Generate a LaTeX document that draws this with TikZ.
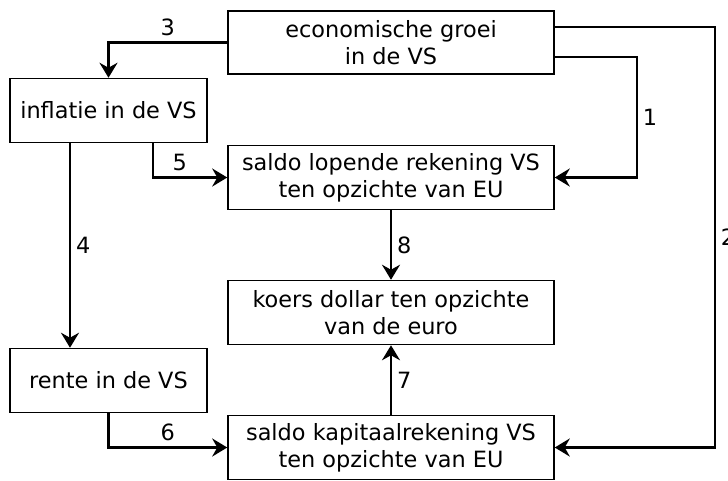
\documentclass[tikz,border=0pt]{standalone}
\usepackage{fontspec}
\setmainfont{DejaVu Sans}
\usepackage{tikz}
\usetikzlibrary{arrows.meta, positioning, calc}

\begin{document}
\begin{tikzpicture} [node distance = 67.5pt, on grid, font=\fontsize{11.2}{13.5}\selectfont,
		box/.style = {draw, line width = 0.75pt, minimum width = 163pt, minimum height = 32pt, align = center, inner sep = 1pt},
		smallbox/.style = {box, minimum width = 98.5pt},
		link/.style = {-{Stealth[length = 7.5pt, width = 9pt, inset = 2.5pt]}, line width = 1.2pt},
		num/.style = {inner sep = 2.5pt}]
		% Top Node : the others are placed from this one
		\node (groei) [box, minimum height = 31.5pt] {economische groei\\in de VS};

		\node (lopende) [box, below = of groei] {saldo lopende rekening VS\\ten opzichte van EU};

		\node (koers) [box, below = of lopende] {koers dollar ten opzichte\\van de euro};

		\node (kapitaal) [box, below = of koers] {saldo kapitaalrekening VS\\ten opzichte van EU};

		% Left column
		\node (inflatie) [smallbox, below left = 34pt and 141.25pt of groei] {inflatie in de VS};

		\node (rente) [smallbox, below = 135pt of inflatie] {rente in de VS};

		% Page size (bottom box runs off the edge)
		\useasboundingbox ($(groei.center)+(-195.5pt,21.25pt)$) rectangle ++(364pt,-239pt);

		% Draw Arrows/Connections
		% groei => lopende || kapitaal || inflatie
		\draw [link] ([yshift=-7.25pt]groei.east) -- ++(41pt,0) |- node [num, pos = 0.25, right] {1} (lopende.east);
		\draw [link] ([yshift=7.75pt]groei.east) -- ++(80pt,0) |- node [num, pos = 0.25, right] {2} (kapitaal.east);
		\draw [link] (groei.west) -| node [num, pos = 0.25, above] {3} (inflatie.north);
		% inflatie => rente || lopende
		\draw [link] ([xshift=-19.25pt]inflatie.south) -- node [num, right] {4} ([xshift=-19.25pt]rente.north);
		\draw [link] ([xshift=22.25pt]inflatie.south) |- node [num, pos = 0.68, above] {5} (lopende.west);
		% rente => kapitaal
		\draw [link] (rente.south) |- node [num, pos = 0.75, above] {6} (kapitaal.west);
		% lopende, kapitaal => koers
		\path [link]
		(kapitaal) edge [] node [num, right] {7} (koers)
		(lopende) edge [] node [num, right] {8} (koers);
	\end{tikzpicture}
\end{document}
